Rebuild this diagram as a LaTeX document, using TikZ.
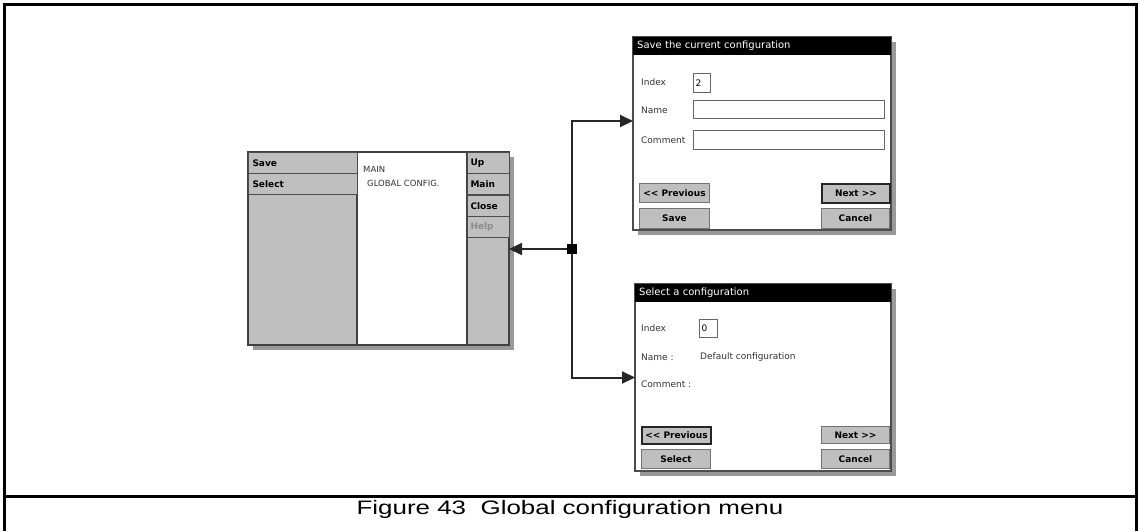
\documentclass[tikz,border=0pt]{standalone}
\usepackage{fontspec}
\setmainfont{Liberation Sans}
\newfontfamily\uifont{DejaVu Sans}
\usetikzlibrary{arrows.meta,shadows}

\begin{document}
\begin{tikzpicture}[x=1pt, y=-1pt, >={Triangle[length=13pt,width=12pt]},
    frameline/.style={line width=3pt},
    boxshadow/.style={drop shadow={shadow xshift=5pt, shadow yshift=-5pt, fill=black!40, opacity=1}},
    panel/.style={draw=black!75, line width=2.5pt, fill=black!25, anchor=north west, inner sep=0pt, outer sep=0pt},
    dlg/.style={draw=black!70, line width=2pt, fill=white, anchor=north west, inner sep=0pt, outer sep=0pt},
    titlebar/.style={fill=black, text=white, anchor=north west, minimum height=18pt, text width=#1, align=left, inner xsep=4pt, inner ysep=0pt, font=\uifont\fontsize{10}{11}\selectfont},
    menubtn/.style={draw=black!70, line width=1pt, fill=black!25, anchor=north west, minimum height=21pt, text width=#1, align=left, inner xsep=4pt, inner ysep=0pt, font=\uifont\bfseries\fontsize{9}{10}\selectfont},
    uibtn/.style={draw=black!55, line width=1pt, fill=black!25, anchor=north west, inner sep=0pt, font=\uifont\bfseries\fontsize{9}{10}\selectfont},
    defbtn/.style={uibtn, draw=black!85, line width=2pt},
    field/.style={draw=black!60, line width=1pt, fill=white, anchor=north west, inner ysep=0pt, inner xsep=2pt, align=left, font=\uifont\fontsize{9}{10}\selectfont},
    lbl/.style={anchor=west, inner sep=0pt, text=black!80, font=\uifont\fontsize{9}{10}\selectfont},
    menutxt/.style={anchor=base west, inner sep=0pt, text=black!80, font=\uifont\fontsize{8.5}{10}\selectfont},
    junc/.style={fill=black, minimum size=10pt, inner sep=0pt},
    conn/.style={->, line width=2pt, draw=black!85}]

    \useasboundingbox (0,0) rectangle (1138,531);

    % outer frame and caption
    \draw[frameline] (4,531) -- (4,4) -- (1136,4) -- (1136,531);
    \draw[frameline] (4,496) -- (1136,496);
    \node[anchor=base, font=\fontsize{19.5}{22}\selectfont] (caption) at (570,514) {\scalebox{1.33}[1]{Figure 43\ \ Global configuration menu}};

    % menu screen
    \node[panel, boxshadow, minimum width=261pt, minimum height=193pt] (menu) at (248,152) {};
    \node[dlg, draw=black!75, minimum width=110pt, minimum height=193pt] (menuview) at (357,152) {};
    \node[menubtn=101pt] (bsave) at (248,152) {Save};
    \node[menubtn=101pt] (bselect) at (248,173) {Select};
    \node[menubtn=36pt, inner xsep=3pt] (bup) at (467,152) {Up};
    \node[menubtn=36pt, inner xsep=3pt] (bmain) at (467,173) {Main};
    \node[menubtn=36pt, inner xsep=3pt] (bclose) at (467,195) {Close};
    \node[menubtn=36pt, inner xsep=3pt, text=black!45] (bhelp) at (467,216) {Help};
    \node[menutxt] (mtitle) at (363,172) {MAIN};
    \node[menutxt] (mpath) at (367,186) {GLOBAL CONFIG.};

    % save dialog
    \node[dlg, boxshadow, minimum width=258pt, minimum height=193pt] (savedlg) at (633,37) {};
    \node[titlebar=250pt] (savetitle) at (633,37) {Save the current configuration};
    \node[lbl] (sindex) at (641,82) {Index};
    \node[field, text width=13pt, minimum height=19pt] (sindexbox) at (693,73) {2};
    \node[lbl] (sname) at (641,110) {Name};
    \node[field, text width=187pt, minimum height=18pt] (snamebox) at (693,100) {};
    \node[lbl] (scomment) at (641,140) {Comment};
    \node[field, text width=187pt, minimum height=19pt] (scommentbox) at (693,130) {};
    \node[uibtn, minimum width=70pt, minimum height=19pt] (sprev) at (639,183) {<< Previous};
    \node[defbtn, minimum width=68pt, minimum height=19pt] (snext) at (821,183) {Next >>};
    \node[uibtn, minimum width=70pt, minimum height=20pt] (ssave) at (639,208) {Save};
    \node[uibtn, minimum width=68pt, minimum height=20pt] (scancel) at (821,208) {Cancel};

    % select dialog
    \node[dlg, boxshadow, minimum width=256pt, minimum height=187pt] (seldlg) at (635,284) {};
    \node[titlebar=248pt] (seltitle) at (635,284) {Select a configuration};
    \node[lbl] (xindex) at (641,328) {Index};
    \node[field, text width=14pt, minimum height=18pt] (xindexbox) at (699,319) {0};
    \node[lbl] (xname) at (641,357) {Name :};
    \node[lbl] (xnameval) at (700,357) {Default configuration};
    \node[lbl] (xcomment) at (641,384) {Comment :};
    \node[defbtn, minimum width=69pt, minimum height=17pt] (xprev) at (641,426) {<< Previous};
    \node[uibtn, minimum width=68pt, minimum height=17pt] (xnext) at (821,426) {Next >>};
    \node[uibtn, minimum width=69pt, minimum height=19pt] (xselect) at (641,449) {Select};
    \node[uibtn, minimum width=68pt, minimum height=19pt] (xcancel) at (821,449) {Cancel};

    % connectors
    \node[junc] (junc) at (572,249) {};
    \coordinate (savein) at (savedlg.west |- 0,121);
    \draw[conn] (junc) -- (junc -| menu.east);
    \draw[conn] (junc) |- (savein);
    \draw[conn] (junc) |- (seldlg.west);
\end{tikzpicture}
\end{document}
